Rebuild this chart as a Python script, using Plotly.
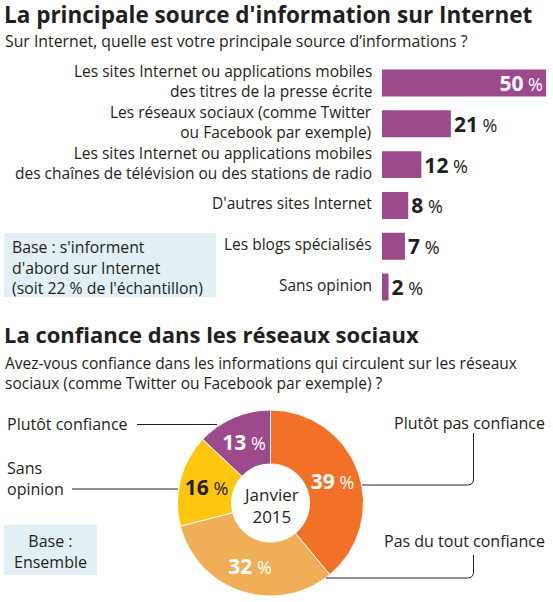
import plotly.graph_objects as go

W, H = 553, 602
def X(px): return px / W
def Y(py): return 1 - py / H

DARK = "#231F20"
FONT = "Open Sans"

# ---- data: bar chart
bar_categories = [
    "Les sites Internet ou applications mobiles<br>des titres de la presse écrite",
    "Les réseaux sociaux (comme Twitter<br>ou Facebook par exemple)",
    "Les sites Internet ou applications mobiles<br>des chaînes de télévision ou des stations de radio",
    "D'autres sites Internet",
    "Les blogs spécialisés",
    "Sans opinion",
]
bar_values = [50, 21, 12, 8, 7, 2]

# ---- data: donut
pie_labels = ["Plutôt pas confiance", "Pas du tout confiance", "Sans opinion", "Plutôt confiance"]
pie_values = [39, 32, 16, 13]
pie_colors = ["#F37127", "#F0AE57", "#FFC60F", "#9C4A8C"]
pie_text_colors = ["white", "white", DARK, "white"]

BAR_COLOR = "#9C4A8B"
BOX_COLOR = "#E2EFF5"

def pct_text(v, size):
    return f"<b>{v}</b><span style='font-size:{size}px;font-weight:normal'> %</span>"

fig = go.Figure()

fig.add_trace(go.Bar(
    x=bar_values, y=bar_categories, orientation="h",
    marker=dict(color=BAR_COLOR, line=dict(width=0)),
    text=[pct_text(v, 18) for v in bar_values],
    textposition=["inside"] + ["outside"] * (len(bar_values) - 1),
    insidetextanchor="end",
    insidetextfont=dict(family=FONT, size=21, color="white"),
    outsidetextfont=dict(family=FONT, size=21, color=DARK),
    constraintext="none", cliponaxis=False,
    hoverinfo="skip", showlegend=False,
))

fig.add_trace(go.Pie(
    labels=pie_labels, values=pie_values,
    marker=dict(colors=pie_colors, line=dict(color="white", width=1)),
    hole=0.42, sort=False, direction="clockwise", rotation=0,
    texttemplate=[pct_text(v, 18) for v in pie_values],
    textposition="inside", insidetextorientation="horizontal",
    textfont=dict(family=FONT, size=21, color=pie_text_colors),
    domain=dict(x=[X(177.5), X(363.5)], y=[Y(596), Y(410)]),
    showlegend=False, hoverinfo="skip",
))

shapes = [
    dict(type="rect", xref="paper", yref="paper", x0=X(4), x1=X(216), y0=Y(297), y1=Y(233),
         fillcolor=BOX_COLOR, line=dict(width=0), layer="below"),
    dict(type="rect", xref="paper", yref="paper", x0=X(4), x1=X(97), y0=Y(575), y1=Y(525),
         fillcolor=BOX_COLOR, line=dict(width=0), layer="below"),
    # connectors
    dict(type="line", xref="paper", yref="paper", x0=X(137), x1=X(217), y0=Y(424.5), y1=Y(424.5),
         line=dict(color=DARK, width=1)),
    dict(type="line", xref="paper", yref="paper", x0=X(72), x1=X(178), y0=Y(489), y1=Y(489),
         line=dict(color=DARK, width=1)),
    dict(type="path", xref="paper", yref="paper",
         path=f"M {X(473.5)} {Y(433)} L {X(473.5)} {Y(479)} Q {X(473.5)} {Y(485)} {X(467.5)} {Y(485)} L {X(362)} {Y(485)}",
         line=dict(color=DARK, width=1)),
    dict(type="path", xref="paper", yref="paper",
         path=f"M {X(473.5)} {Y(555)} L {X(473.5)} {Y(572)} Q {X(473.5)} {Y(578)} {X(467.5)} {Y(578)} L {X(326)} {Y(578)}",
         line=dict(color=DARK, width=1)),
]

def ann(text, x, y, size=15, xanchor="left", yanchor="middle", bold=False, align="left", color=DARK):
    return dict(text=f"<b>{text}</b>" if bold else text, xref="paper", yref="paper",
                x=X(x), y=Y(y), xanchor=xanchor, yanchor=yanchor, showarrow=False,
                align=align, font=dict(family=FONT, size=size, color=color))

annotations = [
    ann("La principale source d'information sur Internet", 2, 15, size=22.5, bold=True),
    ann("Sur Internet, quelle est votre principale source d’informations ?", 3, 41, size=15.8),
    ann("Base : s'informent<br>d'abord sur Internet<br>(soit 22 % de l'échantillon)", 10, 267, size=15.8),
    ann("La confiance dans les réseaux sociaux", 2, 334, size=22, bold=True),
    ann("Avez-vous confiance dans les informations qui circulent sur les réseaux<br>sociaux (comme Twitter ou Facebook par exemple) ?", 3, 373, size=15.5),
    ann("Plutôt confiance", 5, 424, size=16),
    ann("Sans<br>opinion", 5, 478, size=16),
    ann("Base :<br>Ensemble", 50.5, 551, size=16, xanchor="center", align="center"),
    ann("Plutôt pas confiance", 547, 423, size=16, xanchor="right"),
    ann("Pas du tout confiance", 547, 541, size=16, xanchor="right"),
    ann("Janvier<br>2015", 271, 505, size=17, xanchor="center", align="center"),
]

# category labels, right-aligned next to the bars
for cat in bar_categories:
    annotations.append(dict(
        text=cat, xref="paper", yref="y", x=X(374), y=cat, yshift=2,
        xanchor="right", yanchor="middle", align="right", showarrow=False,
        font=dict(family=FONT, size=15.5, color=DARK)))

fig.update_layout(
    width=W, height=H, autosize=False,
    margin=dict(l=0, r=0, t=0, b=0),
    paper_bgcolor="white", plot_bgcolor="white",
    font=dict(family=FONT, color=DARK),
    bargap=0.34,
    xaxis=dict(domain=[X(382), X(546)], range=[0, 50], visible=False, fixedrange=True),
    yaxis=dict(domain=[Y(307.5), Y(62)], autorange="reversed", showgrid=False, zeroline=False,
               showline=False, ticks="", showticklabels=False, fixedrange=True),
    shapes=shapes, annotations=annotations,
)

fig.write_html("out.html", config={"displayModeBar": False},
               post_script="document.body.style.margin='0';document.body.style.overflow='hidden';")
